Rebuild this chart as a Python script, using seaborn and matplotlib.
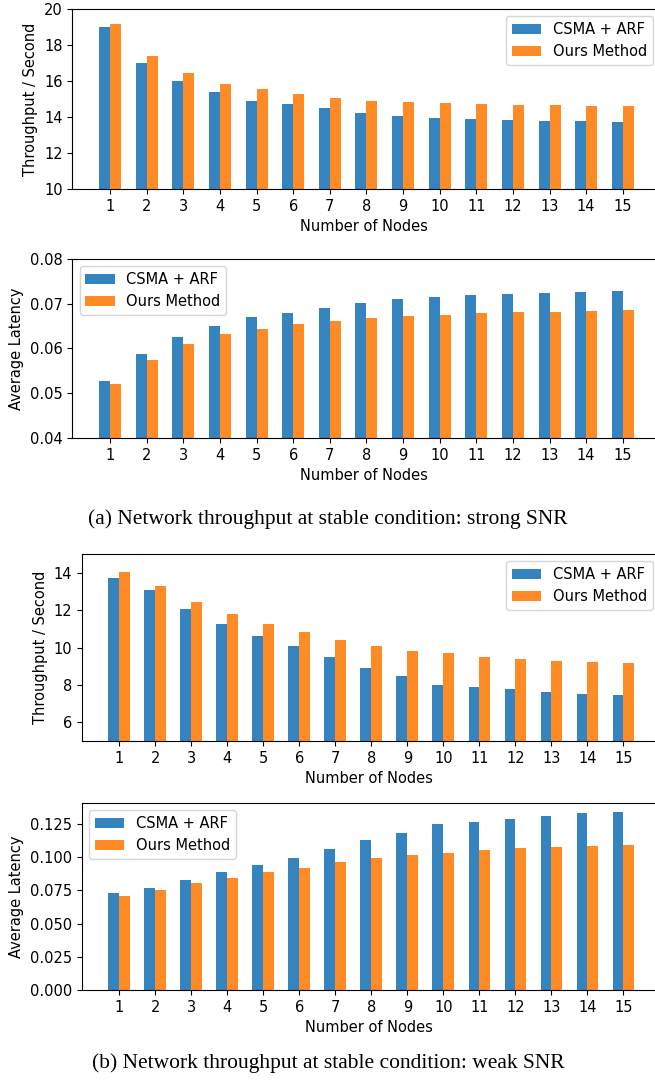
import numpy as np
import pandas as pd
import matplotlib
matplotlib.use("Agg")
import matplotlib.pyplot as plt
import seaborn as sns

nodes = [str(i) for i in range(1, 16)]
series_names = ["CSMA + ARF", "Ours Method"]

thr_strong_csma = [19.0, 17.0, 16.0, 15.38, 14.9, 14.7, 14.5, 14.25, 14.08, 13.97, 13.9, 13.85, 13.8, 13.76, 13.73]
thr_strong_ours = [19.18, 17.38, 16.42, 15.82, 15.53, 15.27, 15.07, 14.9, 14.85, 14.8, 14.74, 14.68, 14.64, 14.63, 14.6]

lat_strong_csma = [0.0527, 0.0587, 0.0625, 0.0650, 0.0670, 0.0680, 0.0690, 0.0701, 0.0710, 0.0715, 0.0720, 0.0722, 0.0724, 0.0726, 0.0728]
lat_strong_ours = [0.0521, 0.0575, 0.0609, 0.0632, 0.0643, 0.0655, 0.0662, 0.0669, 0.0672, 0.0675, 0.0679, 0.0681, 0.0682, 0.0684, 0.0685]

thr_weak_csma = [13.7, 13.07, 12.07, 11.28, 10.63, 10.07, 9.47, 8.88, 8.45, 8.0, 7.9, 7.77, 7.6, 7.52, 7.45]
thr_weak_ours = [14.03, 13.27, 12.42, 11.8, 11.28, 10.85, 10.42, 10.1, 9.83, 9.7, 9.5, 9.38, 9.28, 9.2, 9.15]

lat_weak_csma = [0.0728, 0.0765, 0.0828, 0.0885, 0.0940, 0.0993, 0.1060, 0.1125, 0.1183, 0.1248, 0.1265, 0.1283, 0.1312, 0.1328, 0.1340]
lat_weak_ours = [0.0710, 0.0752, 0.0803, 0.0845, 0.0885, 0.0918, 0.0962, 0.0990, 0.1015, 0.1030, 0.1053, 0.1065, 0.1075, 0.1083, 0.1090]

captions = ["(a) Network throughput at stable condition: strong SNR",
            "(b) Network throughput at stable condition: weak SNR"]

colors = ["#3584c0", "#ff8b26"]

plt.rcParams['font.family'] = ['DejaVu Sans']
plt.rcParams['savefig.bbox'] = 'standard'
FS = 10.5

W, H = 655, 1085
fig = plt.figure(figsize=(W / 100, H / 100), dpi=100)

FULL_RIGHT = 660.5  # where the (cropped) right spine of the original sits


def make_df(a, b):
    return pd.DataFrame({
        "Nodes": nodes * 2,
        "Value": list(a) + list(b),
        "Method": [series_names[0]] * len(nodes) + [series_names[1]] * len(nodes),
    })


def panel(l, t, bt, a, b, ylabel, ylim, legend_loc, yticks=None, fmt=None):
    r = W
    ax = fig.add_axes([l / W, 1 - bt / H, (r - l) / W, (bt - t) / H])
    df = make_df(a, b)
    sns.barplot(data=df, x="Nodes", y="Value", hue="Method", palette=colors,
                width=0.6, linewidth=0, ax=ax, errorbar=None, saturation=1)
    unit = (FULL_RIGHT - l) / 16.06
    ax.set_xlim(-1.03, -1.03 + (r - l) / unit)
    ax.spines['right'].set_visible(False)
    if ylim is not None:
        ax.set_ylim(*ylim)
    if yticks is not None:
        ax.set_yticks(yticks)
    if fmt is not None:
        ax.yaxis.set_major_formatter(matplotlib.ticker.FormatStrFormatter(fmt))
    ax.set_xlabel("Number of Nodes", fontsize=FS)
    ax.set_ylabel(ylabel, fontsize=FS)
    ax.tick_params(labelsize=FS)
    h, lab = ax.get_legend_handles_labels()
    if legend_loc == "upper right":
        xa = (FULL_RIGHT - l) / (r - l)
        ax.legend(h, lab, loc="upper right", bbox_to_anchor=(xa, 1.0),
                  fontsize=FS, title=None)
    else:
        ax.legend(h, lab, loc="upper left", fontsize=FS, title=None)
    return ax


panel(72.3, 9, 189, thr_strong_csma, thr_strong_ours, "Throughput / Second",
      (10, 20), "upper right", yticks=[10, 12, 14, 16, 18, 20])
panel(72.3, 259, 438, lat_strong_csma, lat_strong_ours, "Average Latency",
      (0.04, 0.08), "upper left", yticks=[0.04, 0.05, 0.06, 0.07, 0.08], fmt="%.2f")
panel(82, 554, 741, thr_weak_csma, thr_weak_ours, "Throughput / Second",
      (5, 15), "upper right", yticks=[6, 8, 10, 12, 14])
ymax = max(lat_weak_csma) * 1.05
panel(82, 803, 990, lat_weak_csma, lat_weak_ours, "Average Latency",
      (0, ymax), "upper left", yticks=[0, 0.025, 0.05, 0.075, 0.1, 0.125], fmt="%.3f")

fig.text(328 / W, 1 - 519 / H, captions[0], ha="center", va="center",
         fontsize=15.5, family=["Liberation Serif"])
fig.text(328 / W, 1 - 1063 / H, captions[1], ha="center", va="center",
         fontsize=15.5, family=["Liberation Serif"])

fig.savefig("out.png", dpi=100)
